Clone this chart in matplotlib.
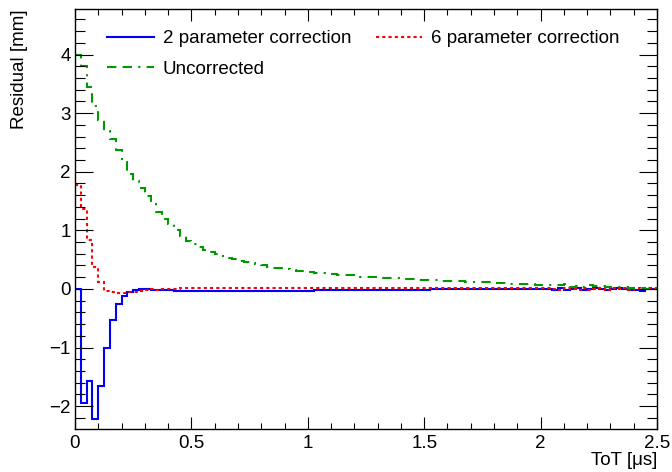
import numpy as np
import matplotlib
matplotlib.use("Agg")
import matplotlib.pyplot as plt
from matplotlib.ticker import MultipleLocator, AutoMinorLocator

plt.rcParams['font.family'] = ['Liberation Sans', 'DejaVu Sans']

# histogram binning: 100 bins over ToT 0 - 2.5 us
tot_lo = 0.0
tot_hi = 2.5
n_bins = 100

# residual per bin [mm]
two_par = [
    0.00, -1.95, -1.57, -2.22, -1.66, -1.00, -0.53, -0.25, -0.12, -0.05,
    -0.02, 0.00, 0.00, -0.01, -0.01, -0.01, -0.02, -0.04, -0.04, -0.04,
    -0.04, -0.04, -0.04, -0.04, -0.04, -0.04, -0.04, -0.04, -0.04, -0.04,
    -0.04, -0.03, -0.03, -0.03, -0.03, -0.03, -0.03, -0.03, -0.03, -0.03,
    -0.03, -0.02, -0.02, -0.02, -0.02, -0.02, -0.02, -0.02, -0.02, -0.02,
    -0.02, -0.01, -0.01, -0.01, -0.01, -0.01, -0.01, -0.01, -0.01, -0.01,
    -0.01, 0.00, 0.00, 0.00, 0.00, 0.00, 0.00, 0.00, 0.00, 0.00,
    0.00, 0.00, 0.00, 0.00, 0.00, 0.00, 0.00, 0.00, 0.00, 0.00,
    0.00, 0.00, -0.01, 0.01, -0.01, 0.00, 0.01, -0.01, 0.00, 0.01,
    0.00, -0.01, 0.00, 0.01, 0.00, -0.01, -0.02, -0.03, 0.00, 0.00,
]

six_par = [
    1.77, 1.37, 0.83, 0.38, 0.12, -0.03, -0.06, -0.07, -0.07, -0.06,
    -0.05, -0.03, -0.01, 0.00, -0.01, 0.00, 0.00, 0.005, 0.01, 0.01,
    0.01, 0.01, 0.01, 0.01, 0.01, 0.01, 0.01, 0.01, 0.01, 0.01,
    0.01, 0.01, 0.01, 0.01, 0.01, 0.01, 0.01, 0.01, 0.01, 0.01,
    0.015, 0.015, 0.01, 0.015, 0.015, 0.015, 0.01, 0.015, 0.015, 0.015,
    0.02, 0.015, 0.015, 0.01, 0.015, 0.015, 0.015, 0.015, 0.01, 0.015,
    0.015, 0.015, 0.015, 0.01, 0.015, 0.015, 0.015, 0.015, 0.01, 0.015,
    0.015, 0.015, 0.01, 0.015, 0.015, 0.015, 0.015, 0.01, 0.015, 0.015,
    0.015, 0.01, 0.00, -0.01, 0.02, 0.00, -0.01, 0.02, -0.01, 0.00,
    0.02, -0.01, 0.01, 0.00, 0.01, -0.02, 0.01, 0.00, 0.01, 0.00,
]

uncorr = [
    4.00, 3.80, 3.45, 3.12, 2.88, 2.70, 2.55, 2.37, 2.16, 1.96,
    1.84, 1.72, 1.58, 1.45, 1.32, 1.20, 1.10, 1.00, 0.90, 0.82,
    0.76, 0.71, 0.66, 0.63, 0.60, 0.56, 0.53, 0.51, 0.48, 0.46,
    0.44, 0.42, 0.40, 0.38, 0.36, 0.35, 0.34, 0.33, 0.31, 0.30,
    0.29, 0.28, 0.27, 0.26, 0.25, 0.24, 0.235, 0.23, 0.22, 0.21,
    0.205, 0.20, 0.195, 0.19, 0.185, 0.18, 0.175, 0.17, 0.165, 0.16,
    0.155, 0.15, 0.145, 0.14, 0.135, 0.13, 0.128, 0.125, 0.122, 0.12,
    0.115, 0.11, 0.105, 0.10, 0.09, 0.085, 0.085, 0.085, 0.08, 0.075,
    0.07, 0.07, 0.065, 0.06, 0.08, 0.04, 0.05, 0.03, 0.06, 0.045,
    0.045, 0.035, 0.035, 0.04, 0.035, 0.02, 0.01, 0.015, 0.00, 0.01,
]

edges = np.linspace(tot_lo, tot_hi, n_bins + 1)

fig = plt.figure(figsize=(6.72, 4.72), dpi=100)
ax = fig.add_axes([0.1116, 0.0911, 0.8661, 0.889])

h_two = ax.stairs(two_par, edges, color='#0000ff', lw=1.5, label='2 parameter correction', baseline=None)
h_six = ax.stairs(six_par, edges, color='#ff0000', lw=1.5, ls=(0, (1.5, 1.5)), label='6 parameter correction', baseline=None)
h_unc = ax.stairs(uncorr, edges, color='#009a00', lw=1.5, ls=(0, (4.5, 3, 4.5, 3, 1, 3)), label='Uncorrected', baseline=None)

ax.set_xlim(tot_lo, tot_hi)
ax.set_ylim(-2.39, 4.77)

ax.xaxis.set_major_locator(MultipleLocator(0.5))
ax.xaxis.set_minor_locator(AutoMinorLocator(5))
ax.yaxis.set_major_locator(MultipleLocator(1))
ax.yaxis.set_minor_locator(AutoMinorLocator(5))
ax.xaxis.set_major_formatter(plt.FuncFormatter(lambda v, p: ('%g' % v)))
ax.yaxis.set_major_formatter(plt.FuncFormatter(lambda v, p: ('%g' % v).replace('-', '\u2212')))

ax.tick_params(which='both', direction='in', top=True, right=True, labelsize=13.5, width=0.8)
ax.tick_params(axis='x', which='major', length=8.6, pad=4)
ax.tick_params(axis='x', which='minor', length=4.3)
ax.tick_params(axis='y', which='major', length=13, pad=3)
ax.tick_params(axis='y', which='minor', length=7.2)
for s in ax.spines.values():
    s.set_linewidth(1.0)

ax.set_xlabel('ToT [\u03bcs]', fontsize=13.5, loc='right')
ax.xaxis.set_label_coords(1.0, -0.055)
ax.set_ylabel('Residual [mm]', fontsize=13.5, loc='top')
ax.yaxis.set_label_coords(-0.081, 1.0)

# column-wise fill: col 1 = 2 par + uncorrected, col 2 = 6 par
ax.legend([h_two, h_unc, h_six],
          ['2 parameter correction', 'Uncorrected', '6 parameter correction'],
          loc='upper left', bbox_to_anchor=(0.055, 0.95), ncol=2, frameon=False,
          fontsize=13.5, handlelength=2.5, handletextpad=0.47, columnspacing=1.3,
          labelspacing=0.7, borderpad=0, borderaxespad=0)

fig.savefig('out.png', dpi=100)
